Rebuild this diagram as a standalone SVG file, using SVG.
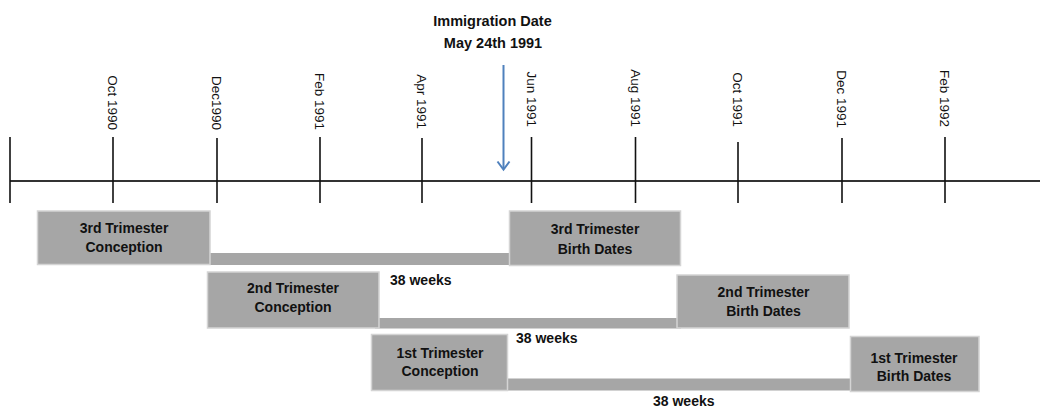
<svg xmlns="http://www.w3.org/2000/svg" width="1040" height="408" viewBox="0 0 1040 408">
<style>
  .axis{stroke:#333;stroke-width:2;fill:none}
  .tick{stroke:#111;stroke-width:1.6;fill:none}
  .month{font-family:"Liberation Sans",Arial,sans-serif;font-size:13.5px;fill:#111;text-anchor:end}
  .title{font-family:"Liberation Sans",Arial,sans-serif;font-size:14.5px;font-weight:bold;fill:#111;text-anchor:middle}
  .box{fill:#a6a6a6;stroke:#d4d4d4;stroke-width:1.5}
  .bar{fill:#a6a6a6}
  .lbl{font-family:"Liberation Sans",Arial,sans-serif;font-size:14px;font-weight:bold;fill:#111;text-anchor:middle}
  .wk{font-family:"Liberation Sans",Arial,sans-serif;font-size:14px;font-weight:bold;fill:#111}
  .arrow{stroke:#4f81bd;stroke-width:2;fill:none}
</style>
<rect width="1040" height="408" fill="#fff"/>
<g id="timeline">
  <line class="axis" x1="10" y1="181" x2="1040" y2="181"/>
  <line class="tick" x1="10" y1="137" x2="10" y2="203"/>
  <line class="tick" x1="113" y1="137" x2="113" y2="203"/>
  <line class="tick" x1="217" y1="138" x2="217" y2="203"/>
  <line class="tick" x1="320" y1="137" x2="320" y2="203"/>
  <line class="tick" x1="422" y1="138" x2="422" y2="203"/>
  <line class="tick" x1="531.5" y1="137" x2="531.5" y2="203"/>
  <line class="tick" x1="635.5" y1="137" x2="635.5" y2="203"/>
  <line class="tick" x1="738" y1="142" x2="738" y2="203"/>
  <line class="tick" x1="842" y1="138" x2="842" y2="203"/>
  <line class="tick" x1="945" y1="137" x2="945" y2="203"/>
  <text class="month" transform="translate(108,130) rotate(90)">Oct 1990</text>
  <text class="month" transform="translate(212,130) rotate(90)">Dec1990</text>
  <text class="month" transform="translate(315,130) rotate(90)">Feb 1991</text>
  <text class="month" transform="translate(417,129) rotate(90)">Apr 1991</text>
  <text class="month" transform="translate(526.5,127) rotate(90)">Jun 1991</text>
  <text class="month" transform="translate(630.5,127) rotate(90)">Aug 1991</text>
  <text class="month" transform="translate(733,127) rotate(90)">Oct 1991</text>
  <text class="month" transform="translate(837,128) rotate(90)">Dec 1991</text>
  <text class="month" transform="translate(940,127) rotate(90)">Feb 1992</text>
</g>
<g id="immigration">
  <text class="title" x="492.5" y="25.5">Immigration Date</text>
  <text class="title" x="493" y="48">May 24th 1991</text>
  <line class="arrow" x1="503.5" y1="65" x2="503.5" y2="169"/>
  <polyline class="arrow" points="497.5,161.5 503.5,169.5 509.5,161.5"/>
</g>
<g id="connectors">
  <rect class="bar" x="205" y="253" width="310" height="12"/>
  <rect class="bar" x="375" y="318" width="306" height="10.5"/>
  <rect class="bar" x="503" y="378.5" width="352" height="12"/>
</g>
<g id="conception3">
  <rect class="box" x="37.5" y="211" width="172.5" height="53.5"/>
  <text class="lbl" x="124" y="233">3rd Trimester</text>
  <text class="lbl" x="124" y="252">Conception</text>
</g>
<g id="birth3">
  <rect class="box" x="509.5" y="211" width="171" height="54.5"/>
  <text class="lbl" x="595" y="234">3rd Trimester</text>
  <text class="lbl" x="595" y="254">Birth Dates</text>
</g>
<g id="conception2">
  <rect class="box" x="207.5" y="272" width="171.5" height="56"/>
  <text class="lbl" x="293" y="293">2nd Trimester</text>
  <text class="lbl" x="293" y="312">Conception</text>
</g>
<g id="birth2">
  <rect class="box" x="677" y="275" width="172" height="53"/>
  <text class="lbl" x="763.5" y="297">2nd Trimester</text>
  <text class="lbl" x="763.5" y="316">Birth Dates</text>
</g>
<g id="conception1">
  <rect class="box" x="371.5" y="334.5" width="136" height="56"/>
  <text class="lbl" x="440" y="357.5">1st Trimester</text>
  <text class="lbl" x="440" y="375.5">Conception</text>
</g>
<g id="birth1">
  <rect class="box" x="850.5" y="336.5" width="128.5" height="55"/>
  <text class="lbl" x="914" y="362.5">1st Trimester</text>
  <text class="lbl" x="914" y="381">Birth Dates</text>
</g>
<g id="labels">
  <text class="wk" x="390" y="284.5">38 weeks</text>
  <text class="wk" x="516" y="342.5">38 weeks</text>
  <text class="wk" x="653" y="406">38 weeks</text>
</g>
</svg>
